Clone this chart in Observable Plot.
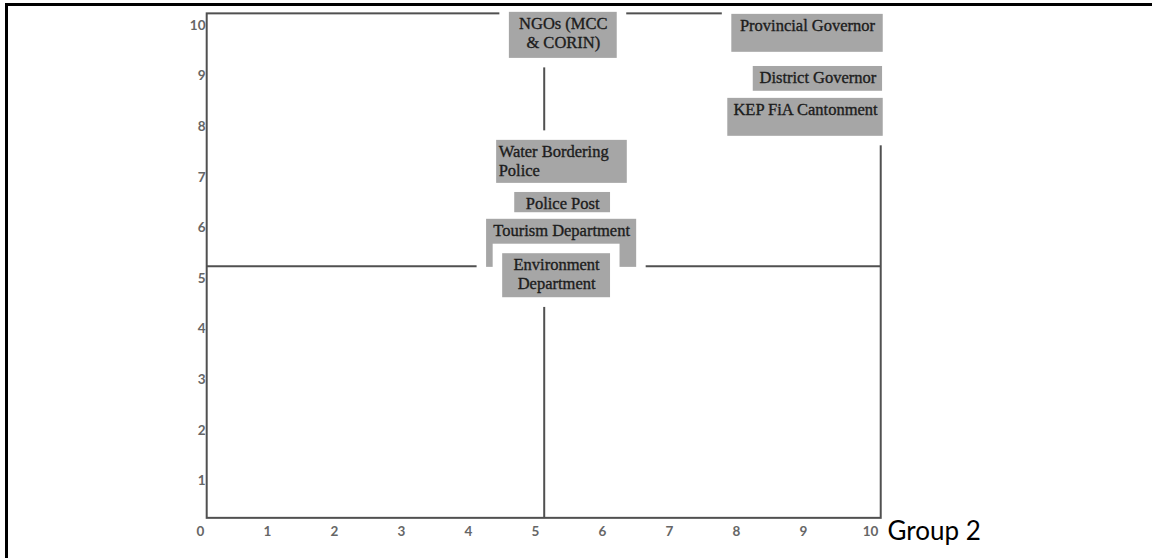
<!DOCTYPE html>
<html>
<head>
<meta charset="utf-8">
<script src="https://cdn.jsdelivr.net/npm/d3@7"></script>
<script src="https://cdn.jsdelivr.net/npm/@observablehq/plot@0.6"></script>
<style>
  html, body { margin: 0; padding: 0; background: #fff; }
  #wrap { position: relative; width: 1152px; height: 558px; overflow: hidden; }
  #border { position: absolute; left: 5px; top: 3px; right: -10px; bottom: -10px;
            border-top: 3px solid #000; border-left: 3px solid #000; pointer-events: none; }
</style>
</head>
<body>
<div id="wrap"><div id="chart"></div><div id="border"></div></div>
<script>
// Stakeholder boxes (data units on the 0–10 grid)
const labels = ["NGOs (MCC\n& CORIN)", "Provincial Governor", "District Governor", "KEP FiA Cantonment",
                "Water Bordering\nPolice", "Police Post", "Tourism Department", "Environment\nDepartment"];
const boxX1 = [4.61, 7.93, 8.25, 7.87, 4.42, 4.69, 4.27, 4.51];
const boxX2 = [6.22, 10.19, 10.18, 10.19, 6.37, 6.12, 6.51, 6.12];
const boxTop = [10.26, 10.22, 9.19, 8.56, 7.73, 6.70, 6.17, 5.49];
const boxBottom = [9.35, 9.47, 8.70, 7.81, 6.88, 6.30, 5.22, 4.62];

// Quadrant frame and dividers
const frameX = [0.1, 10.16];
const frameY = [0.26, 10.23];
const dividerX = 5.13;
const dividerY = 5.24;

// Tick labels
const xTicks = [0, 1, 2, 3, 4, 5, 6, 7, 8, 9, 10];
const yTicks = [1, 2, 3, 4, 5, 6, 7, 8, 9, 10];
const xTitle = "Group 2";

const boxes = labels.map((label, i) => ({label, x1: boxX1[i], x2: boxX2[i], top: boxTop[i], bottom: boxBottom[i]}));
const leftAligned = new Set(["Water Bordering\nPolice"]);
const nested = new Set(["Environment\nDepartment"]); // sits inside the Tourism box

const lineColor = "#505050";
const serif = "'Liberation Serif', 'Times New Roman', serif";
const textStyle = {lineAnchor: "top", lineHeight: 1.15, dy: 3, fontSize: 16.5, fontFamily: serif,
                   fill: "#1c1c1c", stroke: "#1c1c1c", strokeWidth: 0.35};
const tickStyle = {fontSize: 13.5, fontWeight: "bold", fontFamily: "Lato, sans-serif", fill: "#666"};

const chart = Plot.plot({
  width: 1152,
  height: 558,
  margin: 0,
  x: {domain: [0, 10], range: [200, 870], axis: null},
  y: {domain: [0, 10], range: [531, 25], axis: null},
  marks: [
    Plot.rect([{x1: frameX[0], x2: frameX[1], y1: frameY[0], y2: frameY[1]}],
      {x1: "x1", x2: "x2", y1: "y1", y2: "y2", fill: "none", stroke: lineColor, strokeWidth: 2}),
    Plot.ruleX([dividerX], {y1: frameY[0], y2: frameY[1], stroke: lineColor, strokeWidth: 2}),
    Plot.ruleY([dividerY], {x1: frameX[0], x2: frameX[1], stroke: lineColor, strokeWidth: 2}),
    // white halos that break the lines around every box
    Plot.rect(boxes, {x1: "x1", x2: "x2", y1: "bottom", y2: "top", fill: "#fff",
      stroke: "#fff", strokeWidth: 19}),
    Plot.rect(boxes.filter(d => !nested.has(d.label)), {x1: "x1", x2: "x2", y1: "bottom", y2: "top", fill: "#a6a6a6"}),
    Plot.rect(boxes.filter(d => nested.has(d.label)), {x1: "x1", x2: "x2", y1: "bottom", y2: "top", fill: "#a6a6a6",
      stroke: "#fff", strokeWidth: 19, paintOrder: "stroke"}),
    Plot.text(boxes.filter(d => !leftAligned.has(d.label)), {
      x: d => (d.x1 + d.x2) / 2, y: "top", text: "label", textAnchor: "middle", ...textStyle}),
    Plot.text(boxes.filter(d => leftAligned.has(d.label)), {
      x: "x1", y: "top", text: "label", textAnchor: "start", dx: 2, ...textStyle}),
    Plot.text(xTicks, {x: d => d, y: 0, text: d => String(d), textAnchor: "middle", ...tickStyle}),
    Plot.text(yTicks, {x: 0, y: d => d, text: d => String(d), textAnchor: "end", dx: 5, ...tickStyle}),
    Plot.text([xTitle], {x: 10, y: 0, text: d => d, textAnchor: "start", dx: 17,
      fontSize: 26, fontFamily: "Lato, sans-serif", fill: "#000"})
  ]
});
document.getElementById("chart").appendChild(chart);
</script>
</body>
</html>
